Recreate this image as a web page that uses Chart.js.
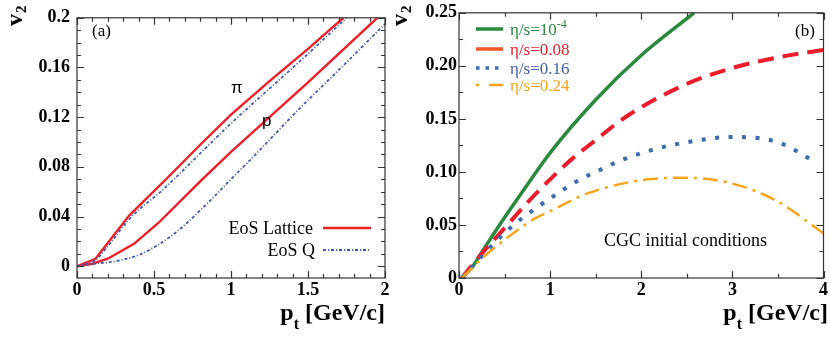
<!DOCTYPE html>
<html lang="en">
<head>
<meta charset="UTF-8">
<title>v2 vs pt</title>
<script src="https://cdn.jsdelivr.net/npm/chart.js"></script>
<style>
  body { margin: 0; background: #fff; }
  .panel { position: absolute; top: 0; }
  #panelA { left: 0; }
  #panelB { left: 395px; }
</style>
</head>
<body>
<canvas id="panelA" class="panel" width="395" height="338"></canvas>
<canvas id="panelB" class="panel" width="435" height="338"></canvas>
<script>
// panel (a): pions / protons, EoS Lattice vs EoS Q
const piLatX = [0, 0.12, 0.34, 0.57, 0.81, 1.0, 1.25, 1.5, 1.73];
const piLatY = [0, 0.006, 0.041, 0.069, 0.099, 0.122, 0.149, 0.175, 0.2];
const piQX = [0, 0.06, 0.12, 0.2, 0.34, 0.57, 0.81, 1.0, 1.25, 1.5, 1.75];
const piQY = [0, 0.002, 0.005, 0.016, 0.038, 0.063, 0.092, 0.115, 0.143, 0.171, 0.2];
const pLatX = [0, 0.1, 0.2, 0.37, 0.53, 0.81, 1.0, 1.5, 1.95];
const pLatY = [0, 0.002, 0.006, 0.018, 0.035, 0.0695, 0.092, 0.148, 0.2];
const pQX = [0, 0.12, 0.25, 0.42, 0.64, 0.85, 1.0, 1.16, 1.43, 1.7, 2.0];
const pQY = [0, 0.002, 0.004, 0.010, 0.027, 0.051, 0.070, 0.090, 0.125, 0.158, 0.195];

// panel (b): CGC initial conditions, different eta/s
const visc0X = [0.03, 0.15, 0.3, 0.5, 0.75, 1.0, 1.5, 2.0, 2.58];
const visc0Y = [0, 0.011, 0.031, 0.057, 0.088, 0.118, 0.168, 0.210, 0.25];
const visc08X = [0.03, 0.25, 0.5, 0.75, 1.0, 1.25, 1.5, 1.75, 2.0, 2.5, 3.0, 3.5, 4.0];
const visc08Y = [0, 0.023, 0.047, 0.071, 0.093, 0.113, 0.130, 0.147, 0.161, 0.183, 0.198, 0.208, 0.215];
const visc16X = [0.03, 0.16, 0.41, 0.6, 0.83, 1.0, 1.29, 1.6, 1.78, 2.13, 2.5, 3.0, 3.5, 3.9];
const visc16Y = [0, 0.012, 0.035, 0.050, 0.065, 0.075, 0.091, 0.104, 0.111, 0.121, 0.128, 0.133, 0.128, 0.110];
const visc24X = [0.03, 0.285, 0.5, 0.81, 1.0, 1.42, 2.07, 2.5, 3.0, 3.5, 4.0];
const visc24Y = [0, 0.021, 0.036, 0.055, 0.063, 0.080, 0.093, 0.0945, 0.089, 0.072, 0.042];

// axis ticks
const xTicksA = [0, 0.5, 1, 1.5, 2];
const xLabelsA = ['0', '0.5', '1', '1.5', '2'];
const yTicksA = [0, 0.04, 0.08, 0.12, 0.16, 0.2];
const yLabelsA = ['0', '0.04', '0.08', '0.12', '0.16', '0.2'];
const xTicksB = [0, 1, 2, 3, 4];
const xLabelsB = ['0', '1', '2', '3', '4'];
const yTicksB = [0, 0.05, 0.10, 0.15, 0.20, 0.25];
const yLabelsB = ['0', '0.05', '0.10', '0.15', '0.20', '0.25'];

const pts = (xs, ys) => xs.map((x, i) => ({x: x, y: ys[i]}));

const SERIF = '"Liberation Serif", "Times New Roman", serif';
const SANS = '"Liberation Sans", Arial, sans-serif';

// frame around plot + inward ticks on all sides (ROOT style)
const frameTicks = {
  id: 'frameTicks',
  afterDatasetsDraw(chart, args, o) {
    const {ctx, chartArea: a, scales: {x, y}} = chart;
    ctx.save();
    ctx.strokeStyle = '#333';
    ctx.lineWidth = 1.2;
    ctx.strokeRect(a.left, a.top, a.right - a.left, a.bottom - a.top);
    ctx.beginPath();
    const nx = Math.round(x.max / o.xMinor);
    for (let i = 0; i <= nx; i++) {
      const v = i * o.xMinor;
      const major = Math.abs(v / o.xMajor - Math.round(v / o.xMajor)) < 1e-6;
      const len = major ? o.majorLen : o.minorLen;
      const px = Math.round(x.getPixelForValue(v)) + 0.5;
      ctx.moveTo(px, a.bottom); ctx.lineTo(px, a.bottom - len);
      ctx.moveTo(px, a.top); ctx.lineTo(px, a.top + len);
    }
    const ny = Math.round(y.max / o.yMinor);
    for (let i = 0; i <= ny; i++) {
      const v = i * o.yMinor;
      const major = Math.abs(v / o.yMajor - Math.round(v / o.yMajor)) < 1e-6;
      const len = major ? o.majorLen : o.minorLen;
      const py = Math.round(y.getPixelForValue(v)) + 0.5;
      ctx.moveTo(a.left, py); ctx.lineTo(a.left + len, py);
      ctx.moveTo(a.right, py); ctx.lineTo(a.right - len, py);
    }
    ctx.stroke();
    ctx.restore();
  }
};

function drawXTitle(ctx, right, base) {
  ctx.save();
  ctx.fillStyle = '#000';
  ctx.textBaseline = 'alphabetic';
  ctx.textAlign = 'left';
  ctx.font = 'bold 24px ' + SERIF;
  const wP = ctx.measureText('p').width;
  const wRest = ctx.measureText(' [GeV/c]').width;
  ctx.font = 'bold 16px ' + SERIF;
  const wT = ctx.measureText('t').width;
  let x0 = right - wP - wT - wRest;
  ctx.font = 'bold 24px ' + SERIF;
  ctx.fillText('p', x0, base);
  ctx.font = 'bold 16px ' + SERIF;
  ctx.fillText('t', x0 + wP, base + 9);
  ctx.font = 'bold 24px ' + SERIF;
  ctx.fillText(' [GeV/c]', x0 + wP + wT, base);
  ctx.restore();
}

function drawYTitle(ctx, x, y) {
  ctx.save();
  ctx.translate(x, y);
  ctx.rotate(-Math.PI / 2);
  ctx.fillStyle = '#000';
  ctx.textBaseline = 'alphabetic';
  ctx.textAlign = 'left';
  ctx.font = 'bold 24px ' + SERIF;
  const wv = ctx.measureText('v').width;
  ctx.fillText('v', 0, 0);
  ctx.font = 'bold 15px ' + SERIF;
  ctx.fillText('2', wv + 1, 4);
  ctx.restore();
}

function sample(ctx, x1, x2, y, color, width, dash) {
  ctx.save();
  ctx.strokeStyle = color;
  ctx.lineWidth = width;
  ctx.setLineDash(dash);
  ctx.beginPath();
  ctx.moveTo(x1, y);
  ctx.lineTo(x2, y);
  ctx.stroke();
  ctx.restore();
}

const textA = {
  id: 'textA',
  afterDraw(chart) {
    const ctx = chart.ctx;
    drawXTitle(ctx, 385, 320);
    drawYTitle(ctx, 22, 26);
    ctx.save();
    ctx.fillStyle = '#000';
    ctx.font = '17px ' + SERIF;
    ctx.textAlign = 'left';
    ctx.fillText('(a)', 92, 36);
    ctx.font = '17px ' + SANS;
    ctx.fillText('\u03c0', 231, 93);
    ctx.fillText('p', 262, 126);
    ctx.font = '18px ' + SERIF;
    ctx.textAlign = 'right';
    ctx.fillText('EoS Lattice', 313, 234);
    ctx.fillText('EoS Q', 315, 256);
    ctx.restore();
    sample(ctx, 323, 371, 228, '#ee1f26', 2.4, []);
    sample(ctx, 323, 370, 250, '#3d5bb0', 1.8, [3, 2, 1, 2]);
  }
};

const textB = {
  id: 'textB',
  afterDraw(chart) {
    const ctx = chart.ctx;
    drawXTitle(ctx, 433, 320);
    drawYTitle(ctx, 12, 26);
    ctx.save();
    ctx.textAlign = 'left';
    ctx.font = '17px ' + SERIF;
    ctx.fillStyle = '#000';
    ctx.fillText('(b)', 400, 36);
    ctx.font = '18px ' + SERIF;
    ctx.fillText('CGC initial conditions', 209, 246);
    ctx.font = '17px ' + SERIF;
    ctx.fillStyle = '#2a8a3c';
    ctx.fillText('\u03b7/s=10', 115, 35);
    const w = ctx.measureText('\u03b7/s=10').width;
    ctx.font = '12px ' + SERIF;
    ctx.fillText('-4', 115 + w, 28);
    ctx.font = '17px ' + SERIF;
    ctx.fillStyle = '#e8202a';
    ctx.fillText('\u03b7/s=0.08', 115, 55);
    ctx.fillStyle = '#3a5fb0';
    ctx.fillText('\u03b7/s=0.16', 115, 74);
    ctx.fillStyle = '#f5a31a';
    ctx.fillText('\u03b7/s=0.24', 115, 91);
    ctx.restore();
    sample(ctx, 81, 108, 29, '#2a8a3c', 3.5, []);
    sample(ctx, 81, 108, 49, '#f0582a', 3.5, []);
    sample(ctx, 81, 108, 68, '#3a6cb0', 3.5, [3.5, 6]);
    sample(ctx, 81, 108, 85, '#f5a31a', 2.5, [3, 10, 14, 10]);
  }
};

function scaleOpts(axis, ticks, labels, min, max, pad, fitSize) {
  return {
    type: 'linear',
    min: min,
    max: max,
    grid: {display: false, drawTicks: false},
    border: {display: false},
    afterBuildTicks: s => { s.ticks = ticks.map(v => ({value: v})); },
    afterFit: s => {
      if (axis === 'x') s.height = fitSize; else s.width = fitSize;
    },
    ticks: {
      padding: pad,
      color: '#000',
      font: {family: SERIF, size: 18, weight: 'bold'},
      maxRotation: 0,
      autoSkip: false,
      callback: (v, i) => labels[i]
    }
  };
}

function line(data, color, width, dash, smooth) {
  return {
    data: data,
    borderColor: color,
    borderWidth: width,
    borderDash: dash,
    borderCapStyle: 'butt',
    pointRadius: 0,
    fill: false,
    tension: 0,
    cubicInterpolationMode: smooth ? 'monotone' : 'default'
  };
}

new Chart(document.getElementById('panelA'), {
  type: 'line',
  data: {
    datasets: [
      line(pts(piQX, piQY), '#3d5bb0', 1.8, [3, 2, 1, 2], true),
      line(pts(pQX, pQY), '#3d5bb0', 1.8, [3, 2, 1, 2], true),
      line(pts(piLatX, piLatY), '#ee1f26', 2.4, [], false),
      line(pts(pLatX, pLatY), '#ee1f26', 2.4, [], false)
    ]
  },
  options: {
    responsive: false,
    animation: false,
    layout: {padding: {left: 0, right: 10, top: 9, bottom: 0}},
    plugins: {
      legend: {display: false},
      tooltip: {enabled: false},
      frameTicks: {xMajor: 0.5, xMinor: 0.1, yMajor: 0.04, yMinor: 0.01, majorLen: 7, minorLen: 4}
    },
    scales: {
      x: scaleOpts('x', xTicksA, xLabelsA, 0, 2, 2, 60),
      y: scaleOpts('y', yTicksA, yLabelsA, -0.0095, 0.2, 7, 77)
    }
  },
  plugins: [frameTicks, textA]
});

new Chart(document.getElementById('panelB'), {
  type: 'line',
  data: {
    datasets: [
      line(pts(visc24X, visc24Y), '#f9a51a', 2.5, [15, 6, 3, 6], true),
      line(pts(visc16X, visc16Y), '#3a6cb0', 4, [4, 9.5], true),
      line(pts(visc08X, visc08Y), '#ee1c2a', 4, [16, 9], true),
      line(pts(visc0X, visc0Y), '#2a8a3c', 3.5, [], true)
    ]
  },
  options: {
    responsive: false,
    animation: false,
    layout: {padding: {left: 0, right: 6, top: 9, bottom: 0}},
    plugins: {
      legend: {display: false},
      tooltip: {enabled: false},
      frameTicks: {xMajor: 1, xMinor: 0.5, yMajor: 0.05, yMinor: 0.025, majorLen: 7, minorLen: 4}
    },
    scales: {
      x: scaleOpts('x', xTicksB, xLabelsB, 0, 4, 2, 60),
      y: scaleOpts('y', yTicksB, yLabelsB, 0, 0.25, 2, 64)
    }
  },
  plugins: [frameTicks, textB]
});
</script>
</body>
</html>
